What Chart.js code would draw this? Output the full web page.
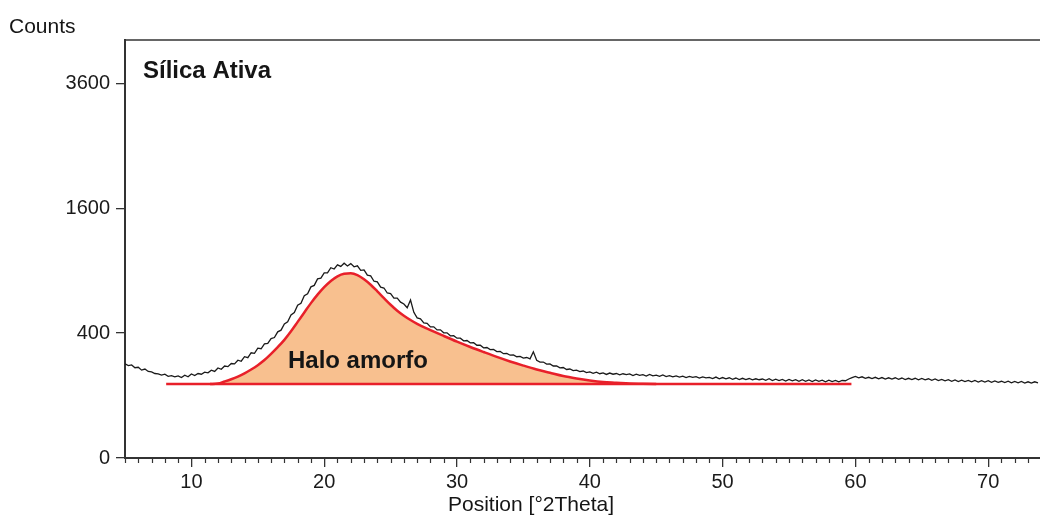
<!DOCTYPE html>
<html>
<head>
<meta charset="utf-8">
<script src="https://cdn.jsdelivr.net/npm/chart.js@4.4.1/dist/chart.umd.min.js"></script>
<style>
  html, body { margin: 0; padding: 0; background: #fff; }
</style>
</head>
<body>
<canvas id="chart" width="1040" height="516"></canvas>
<script>
// Scan: 5 to 73.75 °2Theta, one value every 0.25° (one row = one degree)
const scanStart = 5;
const scanStep = 0.25;
const measuredCounts = [
  228, 219, 222, 209, // 5
  211, 198, 203, 192, // 6
  190, 183, 181, 176, // 7
  180, 171, 174, 169, // 8
  173, 166, 176, 169, // 9
  181, 174, 183, 180, // 10
  189, 186, 198, 192, // 11
  208, 202, 217, 214, // 12
  229, 227, 245, 240, // 13
  263, 258, 284, 281, // 14
  309, 306, 334, 337, // 15
  366, 372, 408, 419, // 16
  461, 476, 525, 542, // 17
  598, 614, 675, 691, // 18
  751, 764, 823, 829, // 19
  879, 878, 928, 916, // 20
  957, 941, 973, 946, // 21
  969, 937, 947, 903, // 22
  907, 857, 850, 801, // 23
  795, 748, 741, 698, // 24
  693, 656, 655, 623, // 25
  608, 579, 640, 544, // 26
  503, 497, 468, 465, // 27
  441, 441, 421, 421, // 28
  402, 402, 383, 384, // 29
  368, 368, 352, 354, // 30
  340, 341, 326, 326, // 31
  311, 313, 301, 302, // 32
  290, 291, 279, 281, // 33
  271, 273, 263, 265, // 34
  256, 259, 252, 289, // 35
  245, 236, 236, 226, // 36
  227, 217, 217, 208, // 37
  210, 201, 203, 196, // 38
  198, 191, 194, 187, // 39
  190, 184, 189, 182, // 40
  186, 179, 185, 180, // 41
  183, 177, 182, 178, // 42
  181, 174, 180, 175, // 43
  178, 172, 179, 173, // 44
  176, 171, 177, 170, // 45
  174, 169, 173, 168, // 46
  172, 166, 171, 167, // 47
  170, 164, 169, 165, // 48
  167, 162, 168, 161, // 49
  166, 161, 165, 159, // 50
  164, 158, 163, 158, // 51
  162, 157, 161, 157, // 52
  160, 155, 161, 154, // 53
  159, 154, 158, 152, // 54
  158, 153, 157, 151, // 55
  157, 151, 156, 150, // 56
  156, 151, 155, 149, // 57
  155, 150, 154, 149, // 58
  154, 153, 160, 166, // 59
  171, 165, 169, 163, // 60
  167, 162, 167, 161, // 61
  166, 160, 165, 160, // 62
  165, 159, 164, 158, // 63
  163, 158, 163, 157, // 64
  162, 157, 161, 155, // 65
  160, 154, 158, 153, // 66
  157, 151, 156, 150, // 67
  155, 150, 154, 149, // 68
  154, 148, 153, 148, // 69
  153, 147, 152, 147, // 70
  151, 146, 151, 145, // 71
  150, 145, 150, 144, // 72
  149, 144, 149, 145  // 73
];

// Amorphous halo (red curve) and its background line
const haloPosition = [11.4, 12, 12.5, 13, 13.5, 14, 14.5, 15, 15.5, 16,
  16.5, 17, 17.5, 18, 18.5, 19, 19.5, 20, 20.5, 21,
  21.5, 22, 22.5, 23, 23.5, 24, 24.5, 25, 25.5, 26,
  26.5, 27, 28, 29, 30, 31, 32, 33, 34, 35,
  36, 37, 38, 39, 40, 41, 42, 43, 44, 45];
const haloCounts = [140, 142, 150, 159, 170, 184, 201, 221, 246, 278,
  315, 358, 412, 475, 543, 615, 684, 748, 804, 846,
  870, 874, 858, 820, 770, 712, 655, 602, 556, 519,
  488, 461, 420, 382, 347, 316, 288, 262, 239, 219,
  201, 186, 172, 162, 154, 148, 145, 142, 141, 140];
const backgroundPosition = [8.1, 59.7];
const backgroundCounts = [140, 140];

const xTickValues = [10, 20, 30, 40, 50, 60, 70];
const yTickValues = [0, 400, 1600, 3600];

// the counts axis is square-root scaled: plot sqrt(counts)
const toAxis = (c) => Math.sqrt(c);

const scanPoints = measuredCounts.map((c, i) => ({ x: scanStart + i * scanStep, y: toAxis(c) }));
const haloPoints = haloPosition.map((p, i) => ({ x: p, y: toAxis(haloCounts[i]) }));
const backgroundPoints = backgroundPosition.map((p, i) => ({ x: p, y: toAxis(backgroundCounts[i]) }));

const FONT = '"Liberation Sans", Arial, sans-serif';
const AXIS = '#333';

const extras = {
  id: 'extras',
  afterDraw(chart) {
    const { ctx, chartArea, scales: { x, y } } = chart;
    ctx.save();
    // minor ticks every degree
    ctx.strokeStyle = AXIS;
    ctx.lineWidth = 1.2;
    for (let v = Math.ceil(x.min); v <= x.max; v++) {
      if (v % 10 === 0) continue;
      const px = Math.round(x.getPixelForValue(v)) + 0.5;
      ctx.beginPath();
      ctx.moveTo(px, chartArea.bottom);
      ctx.lineTo(px, chartArea.bottom + 5);
      ctx.stroke();
    }
    // top frame line
    ctx.lineWidth = 1.5;
    ctx.beginPath();
    ctx.moveTo(chartArea.left, chartArea.top);
    ctx.lineTo(chartArea.right, chartArea.top);
    ctx.stroke();

    ctx.fillStyle = '#151515';
    ctx.textBaseline = 'alphabetic';
    ctx.font = '21px ' + FONT;
    ctx.textAlign = 'left';
    ctx.fillText('Counts', 9, 33);
    ctx.textAlign = 'center';
    ctx.fillText('Position [°2Theta]', 531, 511);

    ctx.font = 'bold 24px ' + FONT;
    ctx.textAlign = 'left';
    ctx.fillText('Sílica Ativa', 143, 78);
    ctx.fillText('Halo amorfo', x.getPixelForValue(17.27), y.getPixelForValue(toAxis(207)));
    ctx.restore();
  }
};

new Chart(document.getElementById('chart'), {
  type: 'line',
  data: {
    datasets: [
      {
        label: 'Sílica Ativa',
        data: scanPoints,
        borderColor: '#1a1a1a',
        borderWidth: 1.3,
        pointRadius: 0,
        tension: 0,
        fill: false
      },
      {
        label: 'Background',
        data: backgroundPoints,
        borderColor: '#e8202a',
        borderWidth: 2.5,
        pointRadius: 0,
        fill: false
      },
      {
        label: 'Halo amorfo',
        data: haloPoints,
        borderColor: '#e8202a',
        borderWidth: 2.5,
        backgroundColor: '#f8c08f',
        pointRadius: 0,
        cubicInterpolationMode: 'monotone',
        fill: { value: toAxis(140) }
      }
    ]
  },
  options: {
    responsive: false,
    animation: false,
    events: [],
    layout: { padding: { top: 40, left: 0, right: 0, bottom: 0 } },
    plugins: { legend: { display: false }, tooltip: { enabled: false } },
    scales: {
      x: {
        type: 'linear',
        min: 5,
        max: 73.9,
        afterBuildTicks: (axis) => { axis.ticks = xTickValues.map(v => ({ value: v })); },
        afterFit: (axis) => { axis.height = 58; },
        border: { display: true, color: AXIS, width: 2 },
        grid: { drawOnChartArea: false, drawTicks: true, tickLength: 9, tickColor: AXIS, lineWidth: 1.3 },
        ticks: { color: '#1a1a1a', font: { family: FONT, size: 20 }, padding: 3, maxRotation: 0 }
      },
      y: {
        type: 'linear',
        min: 0,
        max: toAxis(4480),
        afterBuildTicks: (axis) => { axis.ticks = yTickValues.map(v => ({ value: toAxis(v) })); },
        afterFit: (axis) => { axis.width = 125; },
        border: { display: true, color: AXIS, width: 2 },
        grid: { drawOnChartArea: false, drawTicks: true, tickLength: 9, tickColor: AXIS, lineWidth: 1.3 },
        ticks: {
          color: '#1a1a1a',
          font: { family: FONT, size: 20 },
          padding: 6,
          callback: (value) => String(Math.round(value * value))
        }
      }
    }
  },
  plugins: [extras]
});
</script>
</body>
</html>
